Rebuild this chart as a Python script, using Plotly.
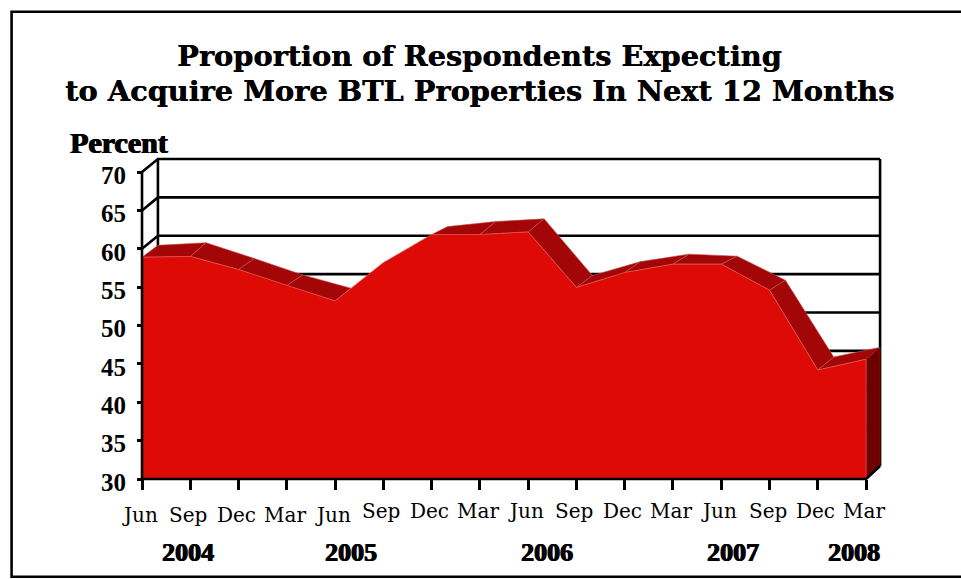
import plotly.graph_objects as go

# Survey series, quarterly
months = ["Jun", "Sep", "Dec", "Mar", "Jun", "Sep", "Dec", "Mar",
          "Jun", "Sep", "Dec", "Mar", "Jun", "Sep", "Dec", "Mar"]
values = [58.9, 59.0, 57.3, 55.2, 53.2, 58.2, 61.85, 61.85,
          62.2, 54.95, 56.9, 58.0, 58.0, 54.6, 44.2, 45.6]
# Height of the rear edge of the extrusion above the front edge
rear_rise = [1.56, 1.79, 1.43, 1.40, 1.66, 1.70, 1.04, 1.70,
             1.70, 1.56, 1.43, 1.30, 1.04, 1.30, 1.70, 1.56]
years = ["2004", "2005", "2006", "2007", "2008"]
y_ticks = [30, 35, 40, 45, 50, 55, 60, 65, 70]
title_lines = ["Proportion of Respondents Expecting",
               "to Acquire More BTL Properties In Next 12 Months"]

# Page layout, in pixels
W, H = 961, 579
LEFT, RIGHT, TOP, BOTTOM = 141.5, 882, 159.3, 479.3
PAD = 5  # room around the frame so its strokes are not clipped
# Depth of the pseudo-3D extrusion, in axis units
DX, DY = 0.33, 1.7
DX_END = 0.29  # the far right corner recedes slightly less
year_x = [0.95, 4.33, 8.4, 12.25, 14.75]
month_px = [515, 515, 515, 515, 515, 511, 511, 511,
            511, 511, 511, 511, 511, 511, 511, 511]
title_px = [56, 91]
hidden_facets = {4, 5}  # rising segments whose top face stays behind the front

RED, TOPFACE, SIDE = "#DD0A05", "#A30606", "#6E0000"
SERIF, WIDE = "Liberation Serif", "DejaVu Serif"

idx = list(range(len(values)))
last = idx[-1]
x_max = last + DX
x_end = last + DX_END
y_max = 70 + DY
sx = (RIGHT - LEFT) / x_max
sy = (BOTTOM - TOP) / (y_max - 30)
rear = [v + r for v, r in zip(values, rear_rise)]
rear_x = [i + DX for i in idx[:-1]] + [x_end]

# Outer plot rectangle including the padding
L, R, T, B = LEFT - PAD, RIGHT + PAD, TOP - PAD, BOTTOM + PAD


def py(p):
    return (B - p) / (B - T)


def px(p):
    return (p - L) / (R - L)


def line(xs, ys, width=2.6):
    return go.Scatter(x=xs, y=ys, mode="lines", hoverinfo="skip",
                      line=dict(color="black", width=width))


def poly(xs, ys, fill, edge):
    return go.Scatter(x=xs, y=ys, mode="lines", fill="toself", fillcolor=fill,
                      hoverinfo="skip", line=dict(color=edge, width=0.6))


fig = go.Figure()

# Back wall gridlines and their returns to the value axis
for v in y_ticks:
    if v > 30:
        fig.add_trace(line([0, DX, x_end], [v, v + DY, v + DY]))
fig.add_trace(line([DX, DX], [30 + DY, y_max]))
fig.add_trace(line([x_end, x_end], [30 + DY, y_max]))

# Top surface of the extruded area, one facet per segment
for a, b in zip(idx[:-1], idx[1:]):
    if a in hidden_facets:
        continue
    fig.add_trace(poly([a, b, rear_x[b], rear_x[a], a],
                       [values[a], values[b], rear[b], rear[a], values[a]],
                       TOPFACE, "#C05050"))

# Right end face
fig.add_trace(poly([last, x_end, x_end, last, last],
                   [values[-1], rear[-1], 30 + DY, 30, values[-1]],
                   SIDE, "#8A2020"))

# Front face
fig.add_trace(poly(idx + [last, 0, 0], values + [30, 30, values[0]], RED, "#E86060"))

# Value axis and floor
fig.add_trace(line([0, 0], [30, 70]))
fig.add_trace(line([0, last, x_end], [30, 30, 30 + DY]))


def page_text(text, x, y, size, family=SERIF, shadow=None):
    return dict(text=text, xref="paper", yref="paper", x=px(x), y=py(y), showarrow=False,
                xanchor="center", yanchor="middle",
                font=dict(family=family, size=size, color="black", shadow=shadow or "none"))


HEAVY = "0.8px 0 0 black, -0.6px 0 0 black"
annotations = [page_text(f"<b>{t}</b>", 479, y, 28.8, family=WIDE, shadow="0.5px 0 0 black")
               for t, y in zip(title_lines, title_px)]
annotations.append(page_text("<b>Percent</b>", 118.5, 143, 30, shadow=HEAVY))
for i, m, p in zip(idx, months, month_px):
    annotations.append(page_text(m, LEFT + i * sx - 2, p, 20, family=WIDE))
for x, t in zip(year_x, years):
    annotations.append(page_text(f"<b>{t}</b>", LEFT + x * sx, 553, 26, shadow=HEAVY))

fig.update_layout(
    width=W, height=H, showlegend=False,
    margin=dict(l=L, r=W - R, t=T, b=H - B, pad=0),
    paper_bgcolor="white", plot_bgcolor="white",
    annotations=annotations,
    shapes=[dict(type="rect", xref="paper", yref="paper", layer="below",
                 x0=px(11), x1=px(W + 5), y0=py(577), y1=py(12),
                 line=dict(color="black", width=2.6))],
    xaxis=dict(range=[-PAD / sx, x_max + PAD / sx], showgrid=False, zeroline=False,
               showline=False, anchor="free", position=py(BOTTOM),
               tickmode="array", tickvals=idx, ticktext=[""] * len(idx),
               ticks="outside", ticklen=10, tickwidth=2.6, tickcolor="black"),
    yaxis=dict(range=[30 - PAD / sy, y_max + PAD / sy], showgrid=False, zeroline=False,
               showline=False, anchor="free", position=px(LEFT),
               tickmode="array", tickvals=y_ticks, ticks="outside", ticklen=5,
               tickwidth=2.6, tickcolor="black", ticklabelstandoff=6, ticklabelshift=3,
               tickfont=dict(family=SERIF, size=25, color="black", weight="bold")),
)

fig.write_html("out.html")
